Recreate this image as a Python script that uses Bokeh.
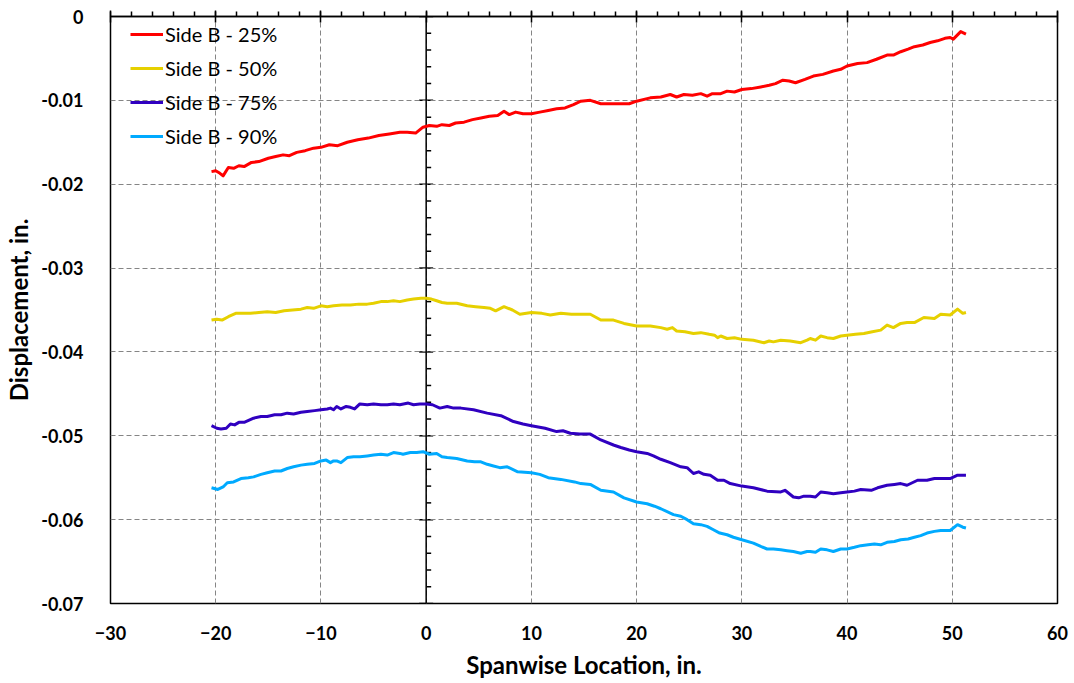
from bokeh.plotting import figure
from bokeh.models import (Range1d, FixedTicker, SingleIntervalTicker, LinearAxis, Span,
                          Legend, LegendItem)
from bokeh.embed import file_html
from bokeh.resources import INLINE

# ---------------- data ----------------
red_x = [-20.4, -20.0, -19.6, -19.3, -18.8, -18.3, -17.8, -17.3, -16.6, -15.9, -15.0, -14.3, -13.6, -13.0,
         -12.3, -11.5, -10.7, -10.0, -9.2, -8.4, -7.5, -6.5, -5.5, -4.5, -3.5, -2.5, -1.8, -1.0, -0.3, 0.3,
         1.0, 1.5, 2.2, 2.8, 3.6, 4.4, 5.2, 6.0, 6.8, 7.4, 7.9, 8.5, 9.2, 10.0, 10.8, 11.6, 12.4, 13.2, 14.0,
         14.7, 15.6, 16.6, 17.5, 18.3, 19.3, 20.0, 21.3, 22.3, 23.2, 23.8, 24.5, 25.3, 26.1, 26.7, 27.2, 28.0,
         28.6, 29.3, 30.0, 30.9, 31.8, 32.6, 33.2, 33.9, 34.5, 35.1, 36.0, 36.8, 37.7, 38.7, 39.4, 40.0, 41.0,
         41.9, 42.8, 43.8, 44.4, 45.1, 45.8, 46.4, 47.2, 47.9, 48.6, 49.3, 49.8, 50.1, 50.8, 51.3]
red_y = [-0.0185, -0.0184, -0.0187, -0.0190, -0.0180, -0.0181, -0.0178, -0.0179, -0.0174, -0.0173, -0.0169,
         -0.0167, -0.0165, -0.0166, -0.0162, -0.0160, -0.0157, -0.0156, -0.0153, -0.0154, -0.0150, -0.0147,
         -0.0145, -0.0142, -0.0140, -0.0138, -0.0138, -0.0139, -0.0132, -0.0130, -0.0131, -0.0129, -0.0130,
         -0.0127, -0.0126, -0.0123, -0.0121, -0.0119, -0.0118, -0.0113, -0.0117, -0.0114, -0.0116, -0.0116,
         -0.0114, -0.0112, -0.0110, -0.0109, -0.0105, -0.0101, -0.0100, -0.0104, -0.0104, -0.0104, -0.0104,
         -0.0101, -0.0097, -0.0096, -0.0093, -0.0096, -0.0093, -0.0094, -0.0092, -0.0095, -0.0092, -0.0092,
         -0.0089, -0.0090, -0.0087, -0.0086, -0.0084, -0.0082, -0.0080, -0.0076, -0.0077, -0.0079, -0.0075,
         -0.0071, -0.0069, -0.0065, -0.0063, -0.0059, -0.0056, -0.0055, -0.0051, -0.0046, -0.0046, -0.0042,
         -0.0039, -0.0036, -0.0034, -0.0031, -0.0029, -0.0026, -0.0025, -0.0027, -0.0018, -0.0021]

yellow_x = [-20.4, -19.9, -19.4, -18.8, -18.1, -17.4, -16.7, -15.9, -15.1, -14.3, -13.5, -12.7, -11.9, -11.3,
            -10.7, -10.0, -9.4, -8.8, -8.0, -7.2, -6.4, -5.6, -5.0, -4.3, -3.7, -3.1, -2.5, -1.8, -1.2, -0.5,
            0.0, 0.5, 1.0, 1.5, 2.0, 2.9, 3.9, 4.7, 5.5, 6.1, 6.6, 7.4, 8.2, 8.9, 10.0, 11.0, 11.8, 12.8, 13.8,
            14.7, 15.6, 16.6, 17.8, 18.8, 20.0, 21.3, 22.3, 22.9, 23.4, 23.8, 24.6, 25.4, 26.1, 26.9, 27.4, 27.7,
            28.0, 28.6, 29.3, 30.0, 31.1, 32.1, 32.6, 33.0, 33.7, 34.6, 35.6, 36.2, 36.5, 37.0, 37.5, 38.1, 38.7,
            39.4, 40.0, 40.8, 41.6, 42.4, 43.2, 43.8, 44.4, 45.1, 45.7, 46.4, 47.3, 48.3, 48.9, 49.8, 50.5,
            51.0, 51.3]
yellow_y = [-0.0362, -0.0361, -0.0362, -0.0358, -0.0354, -0.0354, -0.0354, -0.0353, -0.0352, -0.0353, -0.0351,
            -0.0350, -0.0349, -0.0347, -0.0348, -0.0345, -0.0346, -0.0345, -0.0344, -0.0344, -0.0343, -0.0343,
            -0.0342, -0.0340, -0.0340, -0.0339, -0.0340, -0.0338, -0.0337, -0.0336, -0.0336, -0.0337, -0.0339,
            -0.0341, -0.0342, -0.0342, -0.0345, -0.0346, -0.0347, -0.0348, -0.0351, -0.0346, -0.0350, -0.0355,
            -0.0353, -0.0354, -0.0356, -0.0354, -0.0355, -0.0355, -0.0355, -0.0362, -0.0362, -0.0366, -0.0369,
            -0.0369, -0.0371, -0.0373, -0.0371, -0.0375, -0.0376, -0.0378, -0.0377, -0.0379, -0.0380, -0.0383,
            -0.0381, -0.0384, -0.0383, -0.0385, -0.0386, -0.0389, -0.0387, -0.0388, -0.0386, -0.0387, -0.0389,
            -0.0386, -0.0384, -0.0386, -0.0381, -0.0383, -0.0384, -0.0381, -0.0380, -0.0379, -0.0378, -0.0376,
            -0.0374, -0.0368, -0.0371, -0.0366, -0.0365, -0.0365, -0.0359, -0.0360, -0.0355, -0.0356, -0.0349,
            -0.0354, -0.0353]

purple_x = [-20.4, -19.9, -19.5, -19.0, -18.6, -18.2, -17.8, -17.3, -16.4, -15.7, -15.1, -14.4, -13.8, -13.2,
            -12.6, -11.9, -11.3, -10.6, -10.0, -9.4, -9.1, -8.8, -8.5, -8.1, -7.6, -7.2, -6.8, -6.3, -5.6, -5.0,
            -4.3, -3.7, -3.1, -2.5, -1.7, -1.2, -0.6, 0.0, 0.6, 1.3, 2.0, 2.6, 3.3, 4.5, 5.8, 7.1, 8.3, 9.2, 10.0,
            11.3, 12.4, 13.0, 13.7, 14.6, 15.6, 16.6, 17.8, 18.5, 19.3, 20.0, 21.0, 21.6, 22.3, 23.2, 24.2, 24.8,
            25.4, 25.9, 26.4, 27.0, 27.7, 28.3, 28.9, 30.0, 31.1, 32.4, 33.7, 34.1, 34.9, 35.4, 35.9, 36.5, 37.0,
            37.5, 38.1, 38.7, 39.4, 40.0, 40.7, 41.3, 42.3, 42.9, 43.8, 44.5, 45.1, 45.7, 46.7, 47.6, 48.3, 48.9,
            49.8, 50.5, 51.3]
purple_y = [-0.0488, -0.0491, -0.0492, -0.0491, -0.0486, -0.0487, -0.0484, -0.0484, -0.0479, -0.0477, -0.0477,
            -0.0475, -0.0475, -0.0473, -0.0474, -0.0472, -0.0471, -0.0470, -0.0469, -0.0468, -0.0467, -0.0469,
            -0.0465, -0.0468, -0.0465, -0.0466, -0.0468, -0.0462, -0.0463, -0.0462, -0.0463, -0.0463, -0.0462,
            -0.0463, -0.0461, -0.0463, -0.0462, -0.0462, -0.0463, -0.0467, -0.0465, -0.0467, -0.0467, -0.0469,
            -0.0473, -0.0476, -0.0483, -0.0486, -0.0488, -0.0491, -0.0495, -0.0494, -0.0497, -0.0498, -0.0498,
            -0.0505, -0.0511, -0.0514, -0.0517, -0.0519, -0.0521, -0.0524, -0.0528, -0.0532, -0.0537, -0.0538,
            -0.0545, -0.0543, -0.0546, -0.0547, -0.0553, -0.0553, -0.0557, -0.0560, -0.0562, -0.0566, -0.0567,
            -0.0565, -0.0573, -0.0574, -0.0572, -0.0572, -0.0573, -0.0567, -0.0568, -0.0569, -0.0568, -0.0567,
            -0.0566, -0.0564, -0.0565, -0.0562, -0.0559, -0.0558, -0.0557, -0.0559, -0.0553, -0.0553, -0.0551,
            -0.0551, -0.0551, -0.0547, -0.0547]

cyan_x = [-20.4, -19.8, -19.3, -18.9, -18.3, -17.6, -16.9, -16.4, -15.7, -15.1, -14.4, -13.8, -13.2, -12.6,
          -11.9, -11.3, -10.6, -10.0, -9.5, -9.1, -8.8, -8.5, -8.1, -7.5, -6.9, -6.3, -5.6, -5.0, -4.3, -3.7,
          -3.1, -2.5, -2.2, -1.5, -0.9, -0.3, 0.3, 1.0, 1.5, 2.0, 2.9, 3.9, 4.6, 5.2, 5.8, 6.4, 7.0, 7.7, 8.7,
          10.0, 10.8, 11.6, 12.8, 14.1, 14.7, 15.6, 16.6, 17.8, 18.8, 20.0, 21.0, 21.7, 22.3, 23.5, 24.2, 24.8,
          25.4, 26.1, 26.7, 27.3, 27.9, 28.6, 29.2, 30.0, 31.1, 31.8, 32.4, 33.0, 33.7, 34.3, 34.9, 35.6, 36.2,
          36.5, 37.0, 37.5, 38.1, 38.7, 39.4, 40.0, 40.7, 41.3, 42.0, 42.6, 43.2, 43.8, 44.5, 45.1, 45.8, 46.4,
          47.0, 47.6, 48.3, 48.9, 49.8, 50.5, 51.0, 51.3]
cyan_y = [-0.0562, -0.0564, -0.0561, -0.0556, -0.0555, -0.0551, -0.0550, -0.0549, -0.0546, -0.0544, -0.0542,
          -0.0542, -0.0539, -0.0537, -0.0535, -0.0534, -0.0533, -0.0530, -0.0529, -0.0532, -0.0530, -0.0530,
          -0.0532, -0.0526, -0.0525, -0.0525, -0.0524, -0.0523, -0.0522, -0.0523, -0.0520, -0.0521, -0.0522,
          -0.0520, -0.0520, -0.0519, -0.0522, -0.0521, -0.0525, -0.0526, -0.0527, -0.0530, -0.0531, -0.0531,
          -0.0534, -0.0536, -0.0538, -0.0537, -0.0543, -0.0544, -0.0546, -0.0550, -0.0552, -0.0555, -0.0557,
          -0.0558, -0.0565, -0.0567, -0.0574, -0.0579, -0.0581, -0.0584, -0.0587, -0.0594, -0.0596, -0.0600,
          -0.0605, -0.0606, -0.0608, -0.0612, -0.0616, -0.0618, -0.0621, -0.0624, -0.0628, -0.0632, -0.0635,
          -0.0635, -0.0636, -0.0637, -0.0638, -0.0640, -0.0638, -0.0638, -0.0639, -0.0635, -0.0636, -0.0638,
          -0.0635, -0.0635, -0.0633, -0.0631, -0.0630, -0.0629, -0.0630, -0.0627, -0.0626, -0.0624, -0.0623,
          -0.0621, -0.0619, -0.0616, -0.0614, -0.0613, -0.0613, -0.0606, -0.0609, -0.0610]

series_names = ["Side B - 25%", "Side B - 50%", "Side B - 75%", "Side B - 90%"]
series_colors = ["#FF0000", "#E6D000", "#3000C0", "#00AAFF"]

x_ticks = [-30, -20, -10, 0, 10, 20, 30, 40, 50, 60]
y_ticks = [0.0, -0.01, -0.02, -0.03, -0.04, -0.05, -0.06, -0.07]
y_tick_labels = ["0", "-0.01", "-0.02", "-0.03", "-0.04", "-0.05", "-0.06", "-0.07"]

x_title = "Spanwise Location, in."
y_title = "Displacement, in."

# ---------------- figure ----------------
FONT = "Lato"
p = figure(width=1074, height=683, output_backend="svg", toolbar_location=None,
           x_range=Range1d(-30, 60), y_range=Range1d(-0.07, 0.0),
           min_border_left=110, min_border_right=17, min_border_top=16, min_border_bottom=80)
p.background_fill_color = "white"
p.border_fill_color = "white"
p.outline_line_color = "black"
p.outline_line_width = 1.5

# grid
p.xgrid.ticker = FixedTicker(ticks=x_ticks)
p.ygrid.ticker = FixedTicker(ticks=y_ticks)
for g in (p.xgrid, p.ygrid):
    g.grid_line_color = "#858585"
    g.grid_line_dash = "5 3"
    g.grid_line_width = 1

# bottom axis: labels only
xa = p.xaxis[0]
xa.ticker = FixedTicker(ticks=x_ticks)
xa.axis_line_color = None
xa.major_tick_line_color = None
xa.minor_tick_line_color = None
xa.major_label_standoff = 16
xa.major_label_text_font = FONT
xa.major_label_text_font_style = "bold"
xa.major_label_text_font_size = "18px"
xa.major_label_text_color = "black"
xa.axis_label = x_title
xa.axis_label_text_font = FONT
xa.axis_label_text_font_style = "bold"
xa.axis_label_text_font_size = "24px"
xa.axis_label_text_color = "black"
xa.axis_label_standoff = 7

# left axis: labels only
ya = p.yaxis[0]
ya.ticker = FixedTicker(ticks=y_ticks)
ya.major_label_overrides = {t: l for t, l in zip(y_ticks, y_tick_labels)}
ya.axis_line_color = None
ya.major_tick_line_color = None
ya.minor_tick_line_color = None
ya.major_label_standoff = 21
ya.major_label_text_font = FONT
ya.major_label_text_font_style = "bold"
ya.major_label_text_font_size = "18px"
ya.major_label_text_color = "black"
ya.axis_label = y_title
ya.axis_label_text_font = FONT
ya.axis_label_text_font_style = "bold"
ya.axis_label_text_font_size = "24px"
ya.axis_label_text_color = "black"
ya.axis_label_standoff = 5

# top axis (the x axis crosses at y = 0): line + ticks, empty labels
top = LinearAxis(ticker=SingleIntervalTicker(interval=10, num_minor_ticks=5))
top.axis_line_color = "black"
top.axis_line_width = 1.5
top.major_tick_line_color = "black"
top.major_tick_line_width = 1.5
top.major_tick_in = 6
top.major_tick_out = 6
top.minor_tick_line_color = "black"
top.minor_tick_line_width = 1.5
top.minor_tick_in = 0
top.minor_tick_out = 5
top.major_label_overrides = {t: "" for t in x_ticks}
top.major_label_standoff = 0
p.add_layout(top, "above")

# vertical axis at x = 0 with its ticks
px_unit = 90.0 / 947.0
p.add_layout(Span(location=0, dimension="height", line_color="black", line_width=1.5, level="underlay"))
y_minor = []
for a, b in zip(y_ticks[:-1], y_ticks[1:]):
    step = (b - a) / 5.0
    y_minor += [a + step * k for k in range(1, 5)]
r_major = p.segment(x0=[-7 * px_unit] * len(y_ticks), x1=[7 * px_unit] * len(y_ticks),
                    y0=y_ticks, y1=y_ticks, line_color="black", line_width=1.5)
r_minor = p.segment(x0=[0.0] * len(y_minor), x1=[5 * px_unit] * len(y_minor),
                    y0=y_minor, y1=y_minor, line_color="black", line_width=1.5)
r_major.level = "underlay"
r_minor.level = "underlay"

# data lines
all_x = [red_x, yellow_x, purple_x, cyan_x]
all_y = [red_y, yellow_y, purple_y, cyan_y]
items = []
for xs, ys, name, col in zip(all_x, all_y, series_names, series_colors):
    r = p.line(xs, ys, line_color=col, line_width=3, line_join="round")
    items.append(LegendItem(label=name, renderers=[r]))

legend = Legend(items=items, location=(20, 455), padding=10, margin=0,
                spacing=10, glyph_width=33, glyph_height=20, label_height=23, label_standoff=2,
                label_text_font=FONT, label_text_font_size="20px", label_text_color="black",
                border_line_color=None, background_fill_alpha=0.0)
p.add_layout(legend, "center")

open("out.html", "w").write(file_html(p, INLINE))
